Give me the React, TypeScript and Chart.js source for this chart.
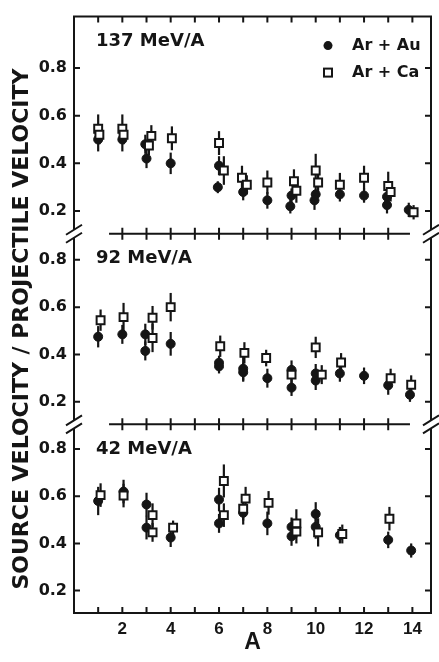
import { useEffect, useRef } from 'react';
import { Chart, registerables } from 'chart.js';

Chart.register(...registerables);

// ---------- data ----------
const panelLabels = ['137 MeV/A', '92 MeV/A', '42 MeV/A'];
const legendLabels = ['Ar + Au', 'Ar + Ca'];
const yAxisTitle = 'SOURCE VELOCITY / PROJECTILE VELOCITY';
const xAxisTitle = 'A';
const yTickValues = [0.2, 0.4, 0.6, 0.8];
const xTickValues = [1, 2, 3, 4, 5, 6, 7, 8, 9, 10, 11, 12, 13, 14];
const xLabelValues = [2, 4, 6, 8, 10, 12, 14];
const separatorTicks = [2, 3, 4, 5, 6, 7, 8, 9, 10, 11, 12, 13];
const separatorRange = [1.45, 13.9];

// 137 MeV/A
const au137A = [1.0, 2.0, 2.95, 3.0, 4.0, 6.0, 5.95, 7.0, 8.0, 9.0, 8.95, 10.0, 9.95, 11.0, 12.0, 12.95, 12.95, 13.85];
const au137V = [0.5, 0.5, 0.48, 0.42, 0.4, 0.39, 0.3, 0.28, 0.245, 0.265, 0.22, 0.27, 0.245, 0.27, 0.265, 0.26, 0.225, 0.205];
const au137E = [0.05, 0.05, 0.04, 0.04, 0.045, 0.04, 0.025, 0.035, 0.035, 0.03, 0.03, 0.04, 0.04, 0.03, 0.03, 0.03, 0.035, 0.03];
const ca137A = [1.0, 1.05, 2.0, 2.05, 3.2, 3.1, 4.05, 6.0, 6.2, 6.95, 7.15, 8.0, 9.1, 9.2, 10.0, 10.1, 11.0, 12.0, 13.0, 13.1, 14.05];
const ca137V = [0.545, 0.52, 0.545, 0.52, 0.515, 0.475, 0.505, 0.485, 0.37, 0.34, 0.31, 0.32, 0.325, 0.285, 0.37, 0.32, 0.31, 0.34, 0.305, 0.28, 0.195];
const ca137E = [0.06, 0.04, 0.06, 0.04, 0.045, 0.04, 0.05, 0.05, 0.06, 0.05, 0.04, 0.05, 0.05, 0.05, 0.07, 0.06, 0.05, 0.05, 0.06, 0.04, 0.03];

// 92 MeV/A
const au92A = [1.0, 2.0, 2.95, 2.95, 4.0, 6.0, 6.0, 7.0, 7.0, 8.0, 9.0, 9.0, 10.0, 10.0, 11.0, 12.0, 13.0, 13.9];
const au92V = [0.475, 0.485, 0.485, 0.415, 0.445, 0.365, 0.35, 0.34, 0.325, 0.3, 0.335, 0.26, 0.32, 0.29, 0.32, 0.31, 0.27, 0.23];
const au92E = [0.045, 0.04, 0.045, 0.04, 0.05, 0.03, 0.03, 0.05, 0.04, 0.04, 0.04, 0.035, 0.04, 0.04, 0.035, 0.035, 0.04, 0.03];
const ca92A = [1.1, 2.05, 3.25, 3.25, 4.0, 6.05, 7.05, 7.95, 9.0, 10.0, 10.25, 11.05, 13.1, 13.95];
const ca92V = [0.545, 0.558, 0.555, 0.47, 0.6, 0.435, 0.407, 0.385, 0.315, 0.43, 0.315, 0.366, 0.3, 0.272];
const ca92E = [0.045, 0.06, 0.05, 0.06, 0.06, 0.045, 0.045, 0.035, 0.04, 0.045, 0.04, 0.04, 0.04, 0.04];

// 42 MeV/A
const au42A = [1.0, 2.05, 3.0, 3.0, 4.0, 6.0, 6.0, 7.0, 8.0, 9.0, 9.0, 10.0, 10.0, 11.0, 13.0, 13.95];
const au42V = [0.58, 0.62, 0.565, 0.467, 0.425, 0.586, 0.485, 0.53, 0.485, 0.47, 0.43, 0.525, 0.47, 0.435, 0.415, 0.37];
const au42E = [0.06, 0.05, 0.05, 0.05, 0.04, 0.05, 0.04, 0.05, 0.05, 0.04, 0.04, 0.05, 0.05, 0.035, 0.035, 0.03];
const ca42A = [1.1, 2.05, 3.25, 3.25, 4.1, 6.2, 6.2, 7.1, 7.0, 8.05, 9.2, 9.2, 10.1, 11.1, 13.05];
const ca42V = [0.605, 0.603, 0.52, 0.447, 0.467, 0.665, 0.52, 0.59, 0.547, 0.572, 0.485, 0.45, 0.447, 0.44, 0.505];
const ca42E = [0.05, 0.05, 0.05, 0.04, 0.03, 0.07, 0.05, 0.05, 0.05, 0.05, 0.06, 0.05, 0.06, 0.04, 0.05];

const INK = '#151515';
const FONT = 'DejaVu Sans';

const pts = (xs: number[], ys: number[]) => xs.map((x, i) => ({ x, y: ys[i] }));

const panelIds = ['y137', 'y92', 'y42'];

const errorBarPlugin = {
  id: 'errorBars',
  beforeDatasetsDraw(chart: any) {
    const { ctx } = chart;
    const xs = chart.scales.x;
    ctx.save();
    ctx.strokeStyle = INK;
    ctx.lineWidth = 2.2;
    chart.data.datasets.forEach((ds: any) => {
      const ys = chart.scales[ds.yAxisID];
      ds.data.forEach((p: any, j: number) => {
        const e = ds.errors[j];
        const px = xs.getPixelForValue(p.x);
        ctx.beginPath();
        ctx.moveTo(px, ys.getPixelForValue(p.y - e));
        ctx.lineTo(px, ys.getPixelForValue(p.y + e));
        ctx.stroke();
      });
    });
    ctx.restore();
  },
};

const framePlugin = {
  id: 'frame',
  afterDraw(chart: any) {
    const { ctx, chartArea: ca, scales } = chart;
    const xs = scales.x;
    ctx.save();
    ctx.strokeStyle = INK;
    ctx.lineWidth = 2;
    ctx.lineCap = 'butt';
    // top + right frame
    ctx.beginPath();
    ctx.moveTo(ca.left - 1, ca.top);
    ctx.lineTo(ca.right, ca.top);
    ctx.lineTo(ca.right, ca.bottom + 1);
    ctx.stroke();
    // x ticks inward on top and bottom
    ctx.beginPath();
    for (const v of xTickValues) {
      const px = xs.getPixelForValue(v);
      ctx.moveTo(px, ca.bottom);
      ctx.lineTo(px, ca.bottom - 6);
      ctx.moveTo(px, ca.top);
      ctx.lineTo(px, ca.top + 6);
    }
    // y ticks inward on both sides
    for (const id of panelIds) {
      const s = scales[id];
      for (const v of yTickValues) {
        const py = s.getPixelForValue(v);
        ctx.moveTo(ca.left, py);
        ctx.lineTo(ca.left + 6, py);
        ctx.moveTo(ca.right, py);
        ctx.lineTo(ca.right - 6, py);
      }
    }
    ctx.stroke();
    // separators between panels
    const boundaries = [scales.y92.top, scales.y42.top];
    for (const by of boundaries) {
      ctx.beginPath();
      ctx.moveTo(xs.getPixelForValue(separatorRange[0]), by);
      ctx.lineTo(xs.getPixelForValue(separatorRange[1]), by);
      for (const v of separatorTicks) {
        const px = xs.getPixelForValue(v);
        ctx.moveTo(px, by - 6);
        ctx.lineTo(px, by + 6);
      }
      ctx.stroke();
      // break marks on the borders
      for (const bx of [ca.left, ca.right]) {
        ctx.fillStyle = '#fff';
        ctx.fillRect(bx - 3, by - 4, 6, 8);
        ctx.beginPath();
        for (const off of [-4, 4]) {
          ctx.moveTo(bx - 8, by + off + 5);
          ctx.lineTo(bx + 8, by + off - 5);
        }
        ctx.stroke();
      }
    }
    // panel labels
    ctx.fillStyle = INK;
    ctx.font = `bold 18px "${FONT}"`;
    ctx.textBaseline = 'middle';
    ctx.textAlign = 'left';
    panelIds.forEach((id, i) => {
      const s = scales[id];
      ctx.fillText(panelLabels[i], ca.left + 22, s.top + 25);
    });
    // legend
    const top = scales.y137.top;
    const mx = ca.right - 103;
    ctx.beginPath();
    ctx.arc(mx, top + 29, 4.5, 0, Math.PI * 2);
    ctx.fill();
    ctx.lineWidth = 2;
    ctx.strokeRect(mx - 4, top + 52, 8, 8);
    ctx.font = `bold 16px "${FONT}"`;
    ctx.fillText(legendLabels[0], ca.right - 79, top + 29);
    ctx.fillText(legendLabels[1], ca.right - 79, top + 56);
    ctx.restore();
  },
};

const tickFont = { family: FONT, weight: 'bold' as const, size: 16 };

function yScale(weight: number, min: number, max: number, withTitle: boolean) {
  return {
    type: 'linear' as const,
    position: 'left' as const,
    stack: 'panels',
    stackWeight: weight,
    min,
    max,
    grid: { display: true, drawOnChartArea: false, drawTicks: false },
    border: { display: true, color: INK, width: 2 },
    ticks: {
      padding: 7,
      color: INK,
      font: tickFont,
      callback: (v: any) => Number(v).toFixed(1),
    },
    afterBuildTicks: (s: any) => {
      s.ticks = yTickValues.map((value) => ({ value }));
    },
    afterFit: (s: any) => {
      s.width = 74;
    },
    title: {
      display: withTitle,
      text: yAxisTitle,
      color: INK,
      font: { family: FONT, weight: 'bold' as const, size: 22 },
      padding: { top: 9, bottom: 0 },
    },
  };
}

export default function App() {
  const ref = useRef<HTMLCanvasElement | null>(null);
  useEffect(() => {
    document.body.style.margin = '0';
    const canvas = ref.current;
    if (!canvas) return;
    const au = { pointStyle: 'circle', pointRadius: 4.5, backgroundColor: INK, borderColor: INK, borderWidth: 1, showLine: false };
    const ca = { pointStyle: 'rect', pointRadius: 5.6, backgroundColor: '#fff', borderColor: INK, borderWidth: 2, showLine: false };
    const chart = new Chart(canvas, {
      type: 'scatter',
      data: {
        datasets: [
          { label: legendLabels[1], data: pts(ca137A, ca137V), errors: ca137E, yAxisID: 'y137', ...ca },
          { label: legendLabels[1], data: pts(ca92A, ca92V), errors: ca92E, yAxisID: 'y92', ...ca },
          { label: legendLabels[1], data: pts(ca42A, ca42V), errors: ca42E, yAxisID: 'y42', ...ca },
          { label: legendLabels[0], data: pts(au137A, au137V), errors: au137E, yAxisID: 'y137', ...au },
          { label: legendLabels[0], data: pts(au92A, au92V), errors: au92E, yAxisID: 'y92', ...au },
          { label: legendLabels[0], data: pts(au42A, au42V), errors: au42E, yAxisID: 'y42', ...au },
        ] as any,
      },
      options: {
        animation: false,
        responsive: false,
        events: [],
        layout: { padding: { left: 0, right: 8, top: 4, bottom: 0 } },
        plugins: { legend: { display: false }, tooltip: { enabled: false } },
        scales: {
          x: {
            type: 'linear',
            min: 0,
            max: 14.77,
            grid: { display: true, drawOnChartArea: false, drawTicks: false },
            border: { display: true, color: INK, width: 2 },
            ticks: {
              autoSkip: false,
              maxRotation: 0,
              padding: 6,
              color: INK,
              font: { family: 'Liberation Sans', weight: 'bold', size: 17 },
              callback: (v: any) => (xLabelValues.includes(Number(v)) ? String(v) : ''),
            },
            afterBuildTicks: (s: any) => {
              s.ticks = xTickValues.map((value) => ({ value }));
            },
            afterFit: (s: any) => {
              s.height = 49;
            },
            title: {
              display: true,
              text: xAxisTitle,
              color: INK,
              font: { family: 'Liberation Sans', weight: 'bold', size: 23 },
              padding: { top: 0, bottom: 6 },
            },
          },
          y42: yScale(192, 0.105, 0.905, false),
          y92: yScale(194, 0.105, 0.91, true),
          y137: yScale(221, 0.105, 1.015, false),
        } as any,
      },
      plugins: [errorBarPlugin, framePlugin],
    });
    return () => chart.destroy();
  }, []);
  return (
    <div style={{ position: 'absolute', left: 0, top: 0, width: 439, height: 662, background: '#fff' }}>
      <canvas ref={ref} width={439} height={662} style={{ display: 'block' }} />
    </div>
  );
}
